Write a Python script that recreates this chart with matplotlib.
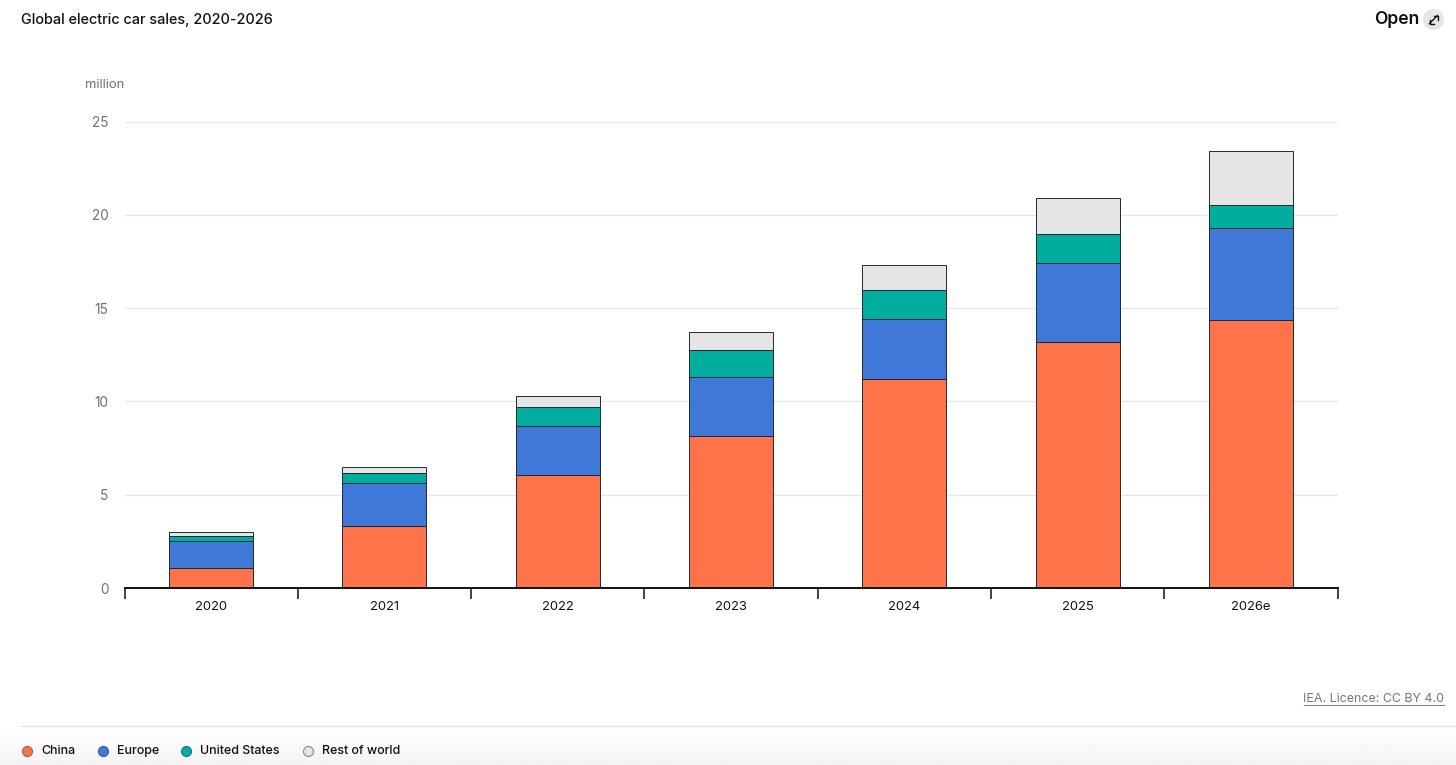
import numpy as np
import matplotlib
matplotlib.use("Agg")
import matplotlib.pyplot as plt
from matplotlib.lines import Line2D
from matplotlib.patches import Circle

plt.rcParams['font.family'] = ['Inter', 'DejaVu Sans']

years = ["2020", "2021", "2022", "2023", "2024", "2025", "2026e"]
china = [1.07, 3.3, 6.05, 8.15, 11.2, 13.2, 14.35]
europe = [1.45, 2.33, 2.65, 3.15, 3.2, 4.2, 4.95]
us = [0.27, 0.54, 1.02, 1.45, 1.55, 1.55, 1.25]
rest = [0.21, 0.33, 0.58, 0.95, 1.35, 1.98, 2.9]
series_names = ["China", "Europe", "United States", "Rest of world"]
colors = ["#FF734A", "#3F78D6", "#00AD9F", "#E5E5E5"]
y_ticks = [0, 5, 10, 15, 20, 25]

W, H = 1456, 765
fig = plt.figure(figsize=(W / 100, H / 100), dpi=100, facecolor="white")


def fx(px):
    return px / W


def fy(py):
    return 1 - py / H


# bottom fade behind the legend
bg = fig.add_axes([0, 0, 1, fy(726)], zorder=0)
bg.imshow(np.linspace(1.0, 0.955, 64).reshape(-1, 1), cmap="gray", vmin=0, vmax=1,
          aspect="auto", interpolation="bilinear")
bg.axis("off")

ax = fig.add_axes([fx(124.5), fy(588), fx(1213), fy(121.6) - fy(588)], zorder=1)
ax.patch.set_alpha(0)
ax.set_xlim(-0.5, 6.5)
ax.set_ylim(0, 25)

x = np.arange(len(years))
bottom = np.zeros(len(years))
for vals, col in zip([china, europe, us, rest], colors):
    ax.bar(x, vals, 0.485, bottom=bottom, color=col, edgecolor="#1f2a30",
           linewidth=0.7, zorder=3)
    bottom += np.array(vals)

for s in ["top", "right", "left"]:
    ax.spines[s].set_visible(False)
ax.spines["bottom"].set_color("#111111")
ax.spines["bottom"].set_linewidth(1.4)
ax.spines["bottom"].set_zorder(4)

ax.set_yticks(y_ticks)
ax.yaxis.grid(True, color="#E6E6E6", linewidth=1)
ax.set_axisbelow(True)
ax.tick_params(axis="y", length=0, pad=11.5, labelsize=9.8, labelcolor="#707070")

ax.set_xticks(np.arange(-0.5, 7, 1))
ax.set_xticklabels([])
ax.tick_params(axis="x", length=8, width=1.1, color="#111111")
ax.set_xticks(x, minor=True)
ax.set_xticklabels(years, minor=True)
ax.tick_params(axis="x", which="minor", length=0, pad=9, labelsize=9.4, labelcolor="#111111")

fig.text(fx(85), fy(85), "million", fontsize=9.4, color="#707070", va="center", ha="left")
fig.text(fx(21), fy(20), "Global electric car sales, 2020-2026", fontsize=10.4,
         fontweight="medium", color="#111111", va="center", ha="left")
fig.text(fx(1419), fy(20), "Open", fontsize=12.6, fontweight="semibold", color="#111111",
         va="center", ha="right")

# open icon
ov = fig.add_axes([0, 0, 1, 1], zorder=2)
ov.set_xlim(0, W)
ov.set_ylim(H, 0)
ov.axis("off")
ov.add_patch(Circle((1433.5, 19.5), 10.5, color="#E6E6E6", lw=0))
for xs, ys in [([1429.5, 1437.5], [23.5, 15.5]),
               ([1433.5, 1437.5, 1437.5], [15.5, 15.5, 19.5]),
               ([1429.5, 1429.5, 1433.5], [19.5, 23.5, 23.5])]:
    ov.add_line(Line2D(xs, ys, color="#111111", lw=1.0))

# source line
fig.text(fx(1444), fy(699), "IEA. Licence: CC BY 4.0", fontsize=8.95, color="#777777",
         va="center", ha="right")
ov.add_line(Line2D([1304, 1444], [705, 705], color="#888888", lw=0.8))

# divider
ov.add_line(Line2D([21, W], [725.5, 725.5], color="#E4E4E4", lw=1))

# legend
marker_x = [26.5, 102.5, 185.5, 308]
label_x = [41, 117, 200, 322]
legend_edges = ["#A65A44", "#2F5A9E", "#0B7F75", "#8A8A8A"]
for name, col, ec, mx, lx in zip(series_names, colors, legend_edges, marker_x, label_x):
    ov.plot([mx], [751], marker="o", ms=7.2, mfc=col, mec=ec, mew=0.8, ls="none")
    ov.text(lx, 751, name, fontsize=8.95, fontweight="medium", color="#111111", va="center", ha="left")

fig.savefig("out.png", dpi=100)
